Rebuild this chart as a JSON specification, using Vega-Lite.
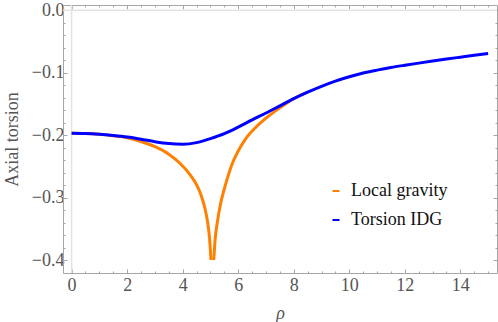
{
  "$schema": "https://vega.github.io/schema/vega-lite/v6.json",
  "width": 434,
  "height": 268,
  "autosize": {"type": "none"},
  "padding": {"left": 63, "top": 5, "right": 1, "bottom": 49},
  "background": "white",
  "config": {
    "view": {"stroke": null},
    "font": "Liberation Serif, serif",
    "axis": {
      "grid": false,
      "domainColor": "#a6a6a6",
      "tickColor": "#a6a6a6",
      "labelColor": "#555555",
      "titleColor": "#555555",
      "labelFont": "Liberation Serif, serif",
      "titleFont": "Liberation Serif, serif",
      "labelFontSize": 18,
      "titleFontSize": 18,
      "titleFontWeight": "normal"
    },
    "legend": {
      "labelFont": "Liberation Serif, serif"
    }
  },
  "datasets": {
    "curves": [
      {"rho": 0, "value": -0.1968, "series": "Torsion IDG", "seg": "c"},
      {"rho": 0.5, "value": -0.1972, "series": "Torsion IDG", "seg": "c"},
      {"rho": 1, "value": -0.1985, "series": "Torsion IDG", "seg": "c"},
      {"rho": 1.5, "value": -0.2005, "series": "Torsion IDG", "seg": "c"},
      {"rho": 2, "value": -0.203, "series": "Torsion IDG", "seg": "c"},
      {"rho": 2.5, "value": -0.2065, "series": "Torsion IDG", "seg": "c"},
      {"rho": 3, "value": -0.2105, "series": "Torsion IDG", "seg": "c"},
      {"rho": 3.5, "value": -0.2135, "series": "Torsion IDG", "seg": "c"},
      {"rho": 4, "value": -0.2145, "series": "Torsion IDG", "seg": "c"},
      {"rho": 4.5, "value": -0.212, "series": "Torsion IDG", "seg": "c"},
      {"rho": 5, "value": -0.2055, "series": "Torsion IDG", "seg": "c"},
      {"rho": 5.5, "value": -0.1975, "series": "Torsion IDG", "seg": "c"},
      {"rho": 6, "value": -0.187, "series": "Torsion IDG", "seg": "c"},
      {"rho": 6.5, "value": -0.1755, "series": "Torsion IDG", "seg": "c"},
      {"rho": 7, "value": -0.1645, "series": "Torsion IDG", "seg": "c"},
      {"rho": 7.5, "value": -0.153, "series": "Torsion IDG", "seg": "c"},
      {"rho": 8, "value": -0.1415, "series": "Torsion IDG", "seg": "c"},
      {"rho": 8.5, "value": -0.1312, "series": "Torsion IDG", "seg": "c"},
      {"rho": 9, "value": -0.1218, "series": "Torsion IDG", "seg": "c"},
      {"rho": 9.5, "value": -0.1135, "series": "Torsion IDG", "seg": "c"},
      {"rho": 10, "value": -0.1065, "series": "Torsion IDG", "seg": "c"},
      {"rho": 10.5, "value": -0.1005, "series": "Torsion IDG", "seg": "c"},
      {"rho": 11, "value": -0.0958, "series": "Torsion IDG", "seg": "c"},
      {"rho": 11.5, "value": -0.0916, "series": "Torsion IDG", "seg": "c"},
      {"rho": 12, "value": -0.088, "series": "Torsion IDG", "seg": "c"},
      {"rho": 12.5, "value": -0.0846, "series": "Torsion IDG", "seg": "c"},
      {"rho": 13, "value": -0.0813, "series": "Torsion IDG", "seg": "c"},
      {"rho": 13.5, "value": -0.0781, "series": "Torsion IDG", "seg": "c"},
      {"rho": 14, "value": -0.0751, "series": "Torsion IDG", "seg": "c"},
      {"rho": 14.5, "value": -0.0721, "series": "Torsion IDG", "seg": "c"},
      {"rho": 15, "value": -0.0692, "series": "Torsion IDG", "seg": "c"},
      {"rho": 0, "value": -0.1968, "series": "Local gravity", "seg": "a"},
      {"rho": 0.5, "value": -0.1972, "series": "Local gravity", "seg": "a"},
      {"rho": 1, "value": -0.1985, "series": "Local gravity", "seg": "a"},
      {"rho": 1.5, "value": -0.2008, "series": "Local gravity", "seg": "a"},
      {"rho": 2, "value": -0.204, "series": "Local gravity", "seg": "a"},
      {"rho": 2.5, "value": -0.2102, "series": "Local gravity", "seg": "a"},
      {"rho": 3, "value": -0.2185, "series": "Local gravity", "seg": "a"},
      {"rho": 3.5, "value": -0.2305, "series": "Local gravity", "seg": "a"},
      {"rho": 3.9, "value": -0.245, "series": "Local gravity", "seg": "a"},
      {"rho": 4.25, "value": -0.2625, "series": "Local gravity", "seg": "a"},
      {"rho": 4.5, "value": -0.2795, "series": "Local gravity", "seg": "a"},
      {"rho": 4.65, "value": -0.2945, "series": "Local gravity", "seg": "a"},
      {"rho": 4.8, "value": -0.317, "series": "Local gravity", "seg": "a"},
      {"rho": 4.9, "value": -0.34, "series": "Local gravity", "seg": "a"},
      {"rho": 4.97, "value": -0.366, "series": "Local gravity", "seg": "a"},
      {"rho": 5.02, "value": -0.4, "series": "Local gravity", "seg": "a"},
      {"rho": 5.12, "value": -0.4, "series": "Local gravity", "seg": "b"},
      {"rho": 5.17, "value": -0.366, "series": "Local gravity", "seg": "b"},
      {"rho": 5.25, "value": -0.339, "series": "Local gravity", "seg": "b"},
      {"rho": 5.35, "value": -0.313, "series": "Local gravity", "seg": "b"},
      {"rho": 5.47, "value": -0.291, "series": "Local gravity", "seg": "b"},
      {"rho": 5.6, "value": -0.2705, "series": "Local gravity", "seg": "b"},
      {"rho": 5.77, "value": -0.2475, "series": "Local gravity", "seg": "b"},
      {"rho": 6.01, "value": -0.2245, "series": "Local gravity", "seg": "b"},
      {"rho": 6.25, "value": -0.207, "series": "Local gravity", "seg": "b"},
      {"rho": 6.61, "value": -0.1885, "series": "Local gravity", "seg": "b"},
      {"rho": 6.97, "value": -0.174, "series": "Local gravity", "seg": "b"},
      {"rho": 7.33, "value": -0.1615, "series": "Local gravity", "seg": "b"},
      {"rho": 7.69, "value": -0.1505, "series": "Local gravity", "seg": "b"},
      {"rho": 8.05, "value": -0.1405, "series": "Local gravity", "seg": "b"},
      {"rho": 8.5, "value": -0.1312, "series": "Local gravity", "seg": "b"}
    ],
    "zero": [{"v": 0}]
  },
  "resolve": {"axis": {"x": "independent", "y": "independent"}},
  "layer": [
    {
      "data": {"name": "zero"},
      "mark": {"type": "rule", "color": "#e3e3e3", "strokeWidth": 1.5},
      "encoding": {
        "x": {"field": "v", "type": "quantitative", "scale": {"domain": [-0.31, 15.32], "nice": false, "zero": false}, "axis": null}
      }
    },
    {
      "data": {"name": "zero"},
      "mark": {"type": "rule", "color": "#e3e3e3", "strokeWidth": 1.5},
      "encoding": {
        "y": {"field": "v", "type": "quantitative", "scale": {"domain": [-0.4208, 0.0085], "nice": false, "zero": false}, "axis": null}
      }
    },
    {
      "data": {"name": "curves"},
      "transform": [{"filter": "datum.series === 'Local gravity'"}],
      "mark": {"type": "line", "strokeWidth": 3, "clip": true, "interpolate": "monotone"},
      "encoding": {
        "x": {"field": "rho", "type": "quantitative", "scale": {"domain": [-0.31, 15.32], "nice": false, "zero": false},
          "axis": {"orient": "bottom", "title": "ρ", "titleFontStyle": "italic", "titlePadding": 10, "values": [0, 2, 4, 6, 8, 10, 12, 14], "tickSize": -4, "labelPadding": 7, "format": "d"}},
        "y": {"field": "value", "type": "quantitative", "scale": {"domain": [-0.4208, 0.0085], "nice": false, "zero": false},
          "axis": {"orient": "left", "title": "Axial torsion", "titlePadding": 10, "values": [0, -0.1, -0.2, -0.3, -0.4], "tickSize": -4, "labelPadding": 3, "format": ".1f"}},
        "detail": {"field": "seg"},
        "color": {"field": "series", "type": "nominal",
          "scale": {"domain": ["Local gravity", "Torsion IDG"], "range": ["#ff8000", "#0000ff"]},
          "legend": {"orient": "none", "legendX": 264, "legendY": 177, "title": null, "symbolType": "stroke", "symbolSize": 49, "symbolStrokeWidth": 2, "labelFontSize": 18, "labelColor": "#111111", "labelOffset": 6, "rowPadding": 11, "padding": 0}}
      }
    },
    {
      "data": {"name": "curves"},
      "transform": [{"filter": "datum.series === 'Torsion IDG'"}],
      "mark": {"type": "line", "strokeWidth": 3, "clip": true, "interpolate": "monotone"},
      "encoding": {
        "x": {"field": "rho", "type": "quantitative", "scale": {"domain": [-0.31, 15.32], "nice": false, "zero": false},
          "axis": {"orient": "top", "title": null, "labels": false, "values": [0, 2, 4, 6, 8, 10, 12, 14], "tickSize": -4}},
        "y": {"field": "value", "type": "quantitative", "scale": {"domain": [-0.4208, 0.0085], "nice": false, "zero": false},
          "axis": {"orient": "right", "title": null, "labels": false, "values": [0, -0.1, -0.2, -0.3, -0.4], "tickSize": -4}},
        "detail": {"field": "seg"},
        "color": {"field": "series", "type": "nominal",
          "scale": {"domain": ["Local gravity", "Torsion IDG"], "range": ["#ff8000", "#0000ff"]}}
      }
    },
    {
      "data": {"name": "curves"},
      "mark": {"type": "point", "opacity": 0},
      "encoding": {
        "x": {"field": "rho", "type": "quantitative", "scale": {"domain": [-0.31, 15.32], "nice": false, "zero": false},
          "axis": {"orient": "bottom", "title": null, "labels": false, "domain": false, "values": [0.5, 1, 1.5, 2.5, 3, 3.5, 4.5, 5, 5.5, 6.5, 7, 7.5, 8.5, 9, 9.5, 10.5, 11, 11.5, 12.5, 13, 13.5, 14.5, 15], "tickSize": -2}},
        "y": {"field": "value", "type": "quantitative", "scale": {"domain": [-0.4208, 0.0085], "nice": false, "zero": false},
          "axis": {"orient": "left", "title": null, "labels": false, "domain": false, "values": [-0.02, -0.04, -0.06, -0.08, -0.12, -0.14, -0.16, -0.18, -0.22, -0.24, -0.26, -0.28, -0.32, -0.34, -0.36, -0.38], "tickSize": -2}}
      }
    },
    {
      "data": {"name": "curves"},
      "mark": {"type": "point", "opacity": 0},
      "encoding": {
        "x": {"field": "rho", "type": "quantitative", "scale": {"domain": [-0.31, 15.32], "nice": false, "zero": false},
          "axis": {"orient": "top", "title": null, "labels": false, "domain": false, "values": [0.5, 1, 1.5, 2.5, 3, 3.5, 4.5, 5, 5.5, 6.5, 7, 7.5, 8.5, 9, 9.5, 10.5, 11, 11.5, 12.5, 13, 13.5, 14.5, 15], "tickSize": -2}},
        "y": {"field": "value", "type": "quantitative", "scale": {"domain": [-0.4208, 0.0085], "nice": false, "zero": false},
          "axis": {"orient": "right", "title": null, "labels": false, "domain": false, "values": [-0.02, -0.04, -0.06, -0.08, -0.12, -0.14, -0.16, -0.18, -0.22, -0.24, -0.26, -0.28, -0.32, -0.34, -0.36, -0.38], "tickSize": -2}}
      }
    }
  ]
}
